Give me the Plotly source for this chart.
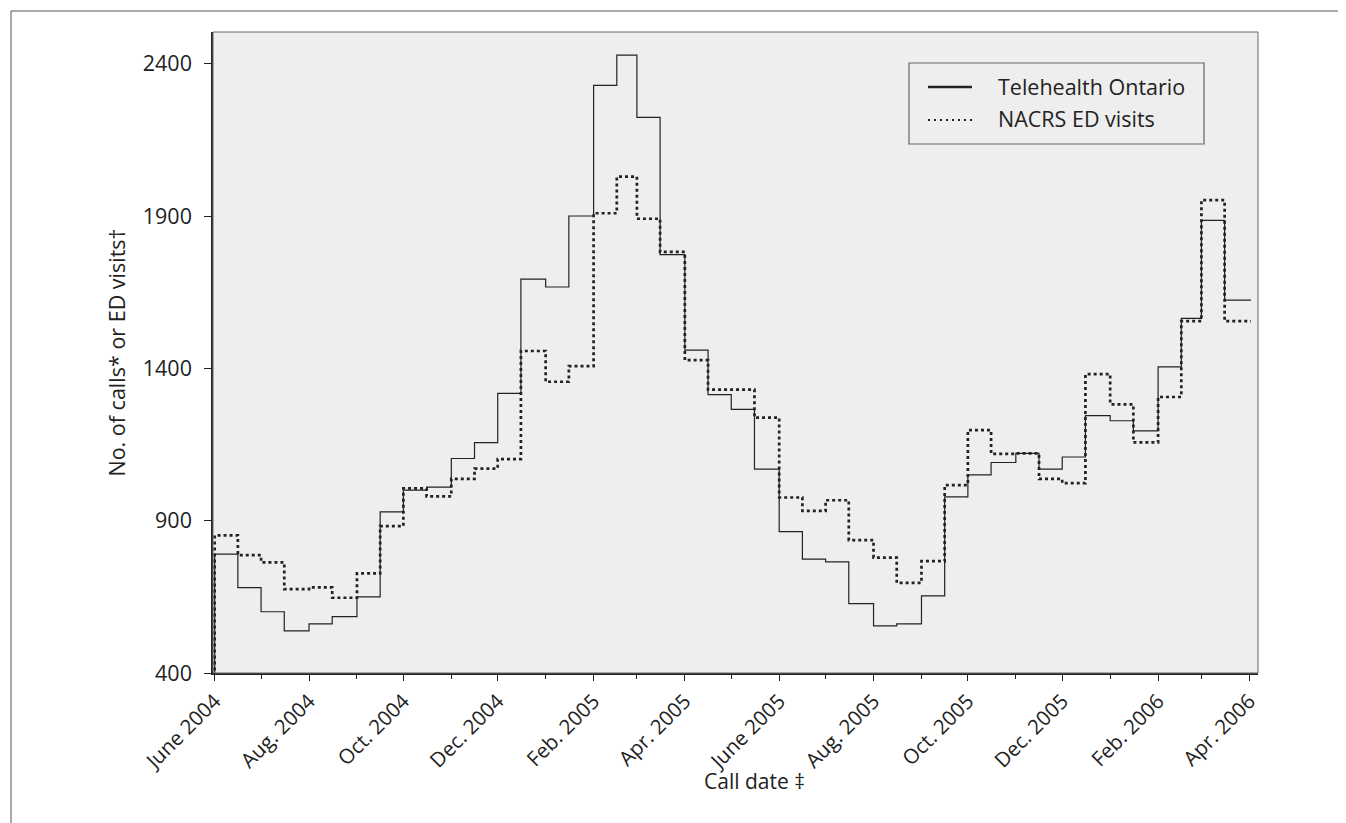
import plotly.graph_objects as go

# ---- data (semi-monthly periods) ----
period_starts = []
for yr, mo in [(2004, m) for m in range(6, 13)] + [(2005, m) for m in range(1, 13)] + [(2006, m) for m in range(1, 4)]:
    period_starts.append(f"{yr}-{mo:02d}-01")
    period_starts.append(f"{yr}-{mo:02d}-16")
series_start = "2004-05-31"
series_end = "2006-04-02"

telehealth = [790, 680, 601, 538, 561, 585, 650, 929, 1000, 1010,
              1104, 1156, 1318, 1693, 1667, 1900, 2329, 2428, 2224, 1773,
              1460, 1314, 1265, 1069, 864, 774, 765, 628, 555, 561,
              653, 978, 1050, 1091, 1121, 1069, 1109, 1245, 1228, 1195,
              1405, 1564, 1886, 1624]
nacrs = [852, 787, 763, 675, 681, 647, 727, 882, 1006, 980,
         1037, 1071, 1102, 1457, 1356, 1407, 1909, 2029, 1891, 1782,
         1427, 1330, 1330, 1238, 976, 932, 967, 836, 779, 696,
         767, 1017, 1197, 1119, 1121, 1037, 1023, 1381, 1282, 1157,
         1306, 1555, 1952, 1555]
pre_series_value = 0

tick_dates = ["2004-06-01", "2004-08-01", "2004-10-01", "2004-12-01", "2005-02-01", "2005-04-01",
              "2005-06-01", "2005-08-01", "2005-10-01", "2005-12-01", "2006-02-01", "2006-04-01"]
tick_labels = ["June 2004", "Aug. 2004", "Oct. 2004", "Dec. 2004", "Feb. 2005", "Apr. 2005",
               "June 2005", "Aug. 2005", "Oct. 2005", "Dec. 2005", "Feb. 2006", "Apr. 2006"]
minor_dates = [d for d in period_starts if d.endswith("-01")] + ["2006-04-01"]
y_ticks = [400, 900, 1400, 1900, 2400]

# ---- layout geometry (screen pixels; page body has an 8px margin) ----
OFF = 8
W, H = 1346 - OFF, 823 - OFF
L, R, T, B = 213, 1258, 32, 673
FONT = "Open Sans, Noto Sans, sans-serif"
INK = "#222222"

def px(x):
    return (x - L) / (R - L)

def py(y):
    return 1 - (y - T) / (B - T)

x_all = [series_start] + period_starts + [series_end]
tele_all = [pre_series_value] + telehealth + [telehealth[-1]]
nacrs_all = [pre_series_value] + nacrs + [nacrs[-1]]

fig = go.Figure()
fig.add_trace(go.Scatter(x=x_all, y=tele_all, mode="lines", name="Telehealth Ontario",
                         line=dict(color=INK, width=1.2, shape="hv"), showlegend=False))
fig.add_trace(go.Scatter(x=x_all, y=nacrs_all, mode="lines", name="NACRS ED visits",
                         line=dict(color=INK, width=2.7, shape="hv", dash="3px,3px"), showlegend=False))

shapes = [
    dict(type="rect", xref="paper", yref="paper", x0=0, x1=1, y0=0, y1=1,
         line=dict(color="#666666", width=1), layer="above"),
    dict(type="rect", xref="paper", yref="paper", x0=px(11), x1=px(1400), y0=py(900), y1=py(11),
         line=dict(color="#555555", width=1), layer="above"),
    dict(type="rect", xref="paper", yref="paper", x0=px(909), x1=px(1204), y0=py(144), y1=py(63),
         line=dict(color="#666666", width=1.2), layer="above"),
    dict(type="line", xref="paper", yref="paper", x0=px(928), x1=px(972), y0=py(87), y1=py(87),
         line=dict(color=INK, width=2.5)),
    dict(type="line", xref="paper", yref="paper", x0=px(928), x1=px(972), y0=py(120), y1=py(120),
         line=dict(color=INK, width=2, dash="2px,4px")),
]

annotations = [
    dict(text="Telehealth Ontario", xref="paper", yref="paper", x=px(996), y=py(86),
         xanchor="left", yanchor="middle", showarrow=False, font=dict(size=21.5, color=INK, family=FONT)),
    dict(text="NACRS ED visits", xref="paper", yref="paper", x=px(996), y=py(118),
         xanchor="left", yanchor="middle", showarrow=False, font=dict(size=21.5, color=INK, family=FONT)),
    dict(text="No. of calls* or ED visits†", xref="paper", yref="paper", x=px(116), y=0.5,
         xanchor="center", yanchor="middle", textangle=-90, showarrow=False,
         font=dict(size=21.5, color=INK, family=FONT)),
    dict(text="Call date ‡", xref="paper", yref="paper", x=px(754), y=py(781),
         xanchor="center", yanchor="middle", showarrow=False,
         font=dict(size=21, color=INK, family=FONT)),
]

fig.update_layout(
    width=W, height=H,
    margin=dict(l=L - OFF, r=(W + OFF) - R, t=T - OFF, b=(H + OFF) - B, pad=0),
    paper_bgcolor="white", plot_bgcolor="#eeeeee",
    font=dict(family=FONT, size=21, color=INK),
    shapes=shapes, annotations=annotations,
    showlegend=False,
    xaxis=dict(type="date", range=["2004-05-30 22:00", "2006-04-06 14:00"],
               tickmode="array", tickvals=tick_dates, ticktext=tick_labels, tickangle=-45,
               ticks="outside", ticklen=6, tickwidth=1.2, tickcolor=INK,
               minor=dict(tickmode="array", tickvals=minor_dates, ticks="outside", ticklen=4,
                          tickwidth=1, tickcolor=INK),
               showgrid=False, zeroline=False, showline=True, linecolor=INK, linewidth=2,
               tickfont=dict(size=20.5, color=INK, family=FONT)),
    yaxis=dict(range=[400, 2504], tickmode="array", tickvals=y_ticks,
               ticks="outside", ticklen=7, tickwidth=1.2, tickcolor=INK, ticklabelstandoff=8,
               showgrid=False, zeroline=False, showline=True, linecolor=INK, linewidth=1.5,
               tickfont=dict(size=21.5, color=INK, family=FONT)),
)

fig.write_html("out.html")
